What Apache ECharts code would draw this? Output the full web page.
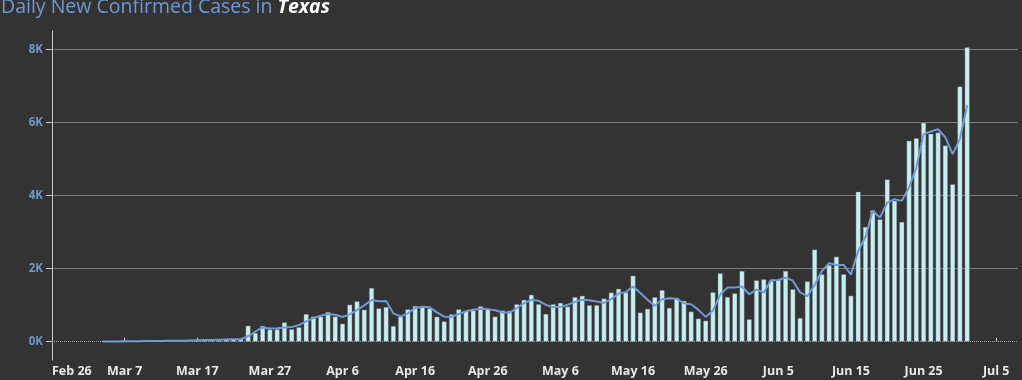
<!DOCTYPE html>
<html><head><meta charset="utf-8">
<script src="https://cdn.jsdelivr.net/npm/echarts@6/dist/echarts.min.js"></script>
<style>html,body{margin:0;padding:0;background:#333333;} #c{width:1022px;height:380px;}</style>
</head><body><div id="c"></div>
<script>
const titleText = 'Daily New Confirmed Cases in';
const stateName = 'Texas';
const tickDays = [0,10,20,30,40,50,60,70,80,90,100,110,120,130];
const tickLabels = ['Feb 26','Mar 7','Mar 17','Mar 27','Apr 6','Apr 16','Apr 26','May 6','May 16','May 26','Jun 5','Jun 15','Jun 25','Jul 5'];
const yTicks = [0,2000,4000,6000,8000];
const firstDay = 7; // Mar 4, counted in days after Feb 26
const dailyCases = [
  1,2,2,3,3,2,4,8,10,14,12,18,15,25,30,40,50,55,70,65,
  438,240,432,335,342,530,342,398,
  758,688,690,813,690,493,1015,1105,876,1470,913,950,
  429,685,886,977,950,913,685,557,749,886,840,858,
  970,910,688,853,844,1027,1146,1284,1027,761,1027,1064,
  963,1220,1256,1000,1000,1183,1348,1449,1348,1806,798,899,
  1220,1412,926,1201,1119,825,633,576,1355,1872,1222,1324,
  1935,615,1680,1710,1665,1690,1935,1435,650,1650,2520,1845,
  2095,2328,1845,1260,4105,3140,3597,3351,4437,3853,3278,5496,
  5569,5989,5690,5724,5368,4309,6984,8053
];
const avgCases = [
  5,6,8,10,12,14,17,20,22,25,28,30,35,40,45,50,55,60,65,70,
  150,280,390,360,370,390,400,456,
  557,648,712,758,740,676,749,867,995,1141,1105,1114,
  776,694,776,922,959,940,803,685,676,758,831,876,
  900,885,860,798,798,917,1055,1146,1119,1009,945,954,
  1009,1091,1146,1137,1100,1064,1165,1320,1357,1513,1330,1146,
  981,1165,1192,1174,1055,1027,871,680,850,1290,1480,1480,
  1510,1300,1425,1345,1685,1690,1753,1670,1350,1245,1550,1935,
  2150,2100,2100,1835,2483,2870,3579,3396,3807,3899,3853,4218,
  4766,5679,5752,5816,5588,5131,5542,6473
];

const chart = echarts.init(document.getElementById('c'), null, {renderer:'canvas'});
chart.setOption({
  backgroundColor: '#333333',
  animation: false,
  title: {
    text: '{a|' + titleText + ' }{b|' + stateName + '}',
    left: 0, top: -3, padding: [0,0,0,1],
    textStyle: { fontWeight: 'normal', rich: {
      a: { color: '#6e9ad3', fontSize: 19.5, fontWeight: 'normal', fontFamily: 'Open Sans' },
      b: { color: '#ffffff', fontSize: 19.5, fontWeight: 'bold', fontStyle: 'italic', fontFamily: 'Open Sans' }
    } }
  },
  grid: { left: 52, right: 4, top: 31, bottom: 20 },
  xAxis: {
    type: 'value', min: 0, max: 133,
    axisLine: { show: false },
    splitLine: { show: false },
    axisTick: { show: true, inside: true, length: 4, customValues: tickDays, lineStyle: { color: '#cfcfcf' } },
    axisLabel: { customValues: tickDays, formatter: v => tickLabels[tickDays.indexOf(v)], color: '#e8e8e8', fontSize: 12.5, fontWeight: 'bold', fontFamily: 'Open Sans', margin: 5, alignMinLabel: 'left' }
  },
  yAxis: {
    type: 'value', min: -500, max: 8500,
    axisLine: { show: true, lineStyle: { color: '#c8c8c8' } },
    axisTick: { show: true, length: 6, customValues: yTicks, lineStyle: { color: '#c8c8c8' } },
    axisLabel: { customValues: yTicks, formatter: v => (v / 1000) + 'K', color: '#7198cc', fontSize: 11.5, fontWeight: 'bold', fontFamily: 'Open Sans', margin: 9 },
    splitLine: { show: true, showMinLine: false, lineStyle: { color: '#7c7c7c', width: 1 } }
  },
  series: [
    {
      type: 'bar', barWidth: 5,
      data: dailyCases.map((v, i) => [firstDay + i, v]),
      itemStyle: { color: '#c7eff2', borderColor: 'rgba(100,100,100,0.8)', borderWidth: 0.5 },
      markLine: { silent: true, symbol: 'none', label: { show: false },
        lineStyle: { color: '#9c9c9c', type: 'dotted', width: 1 },
        data: [{ yAxis: 0 }] }
    },
    {
      type: 'line', showSymbol: false, z: 3,
      data: avgCases.map((v, i) => [firstDay + i, v]),
      lineStyle: { color: '#6f9ad8', width: 2 }
    }
  ]
});
</script>
</body></html>
